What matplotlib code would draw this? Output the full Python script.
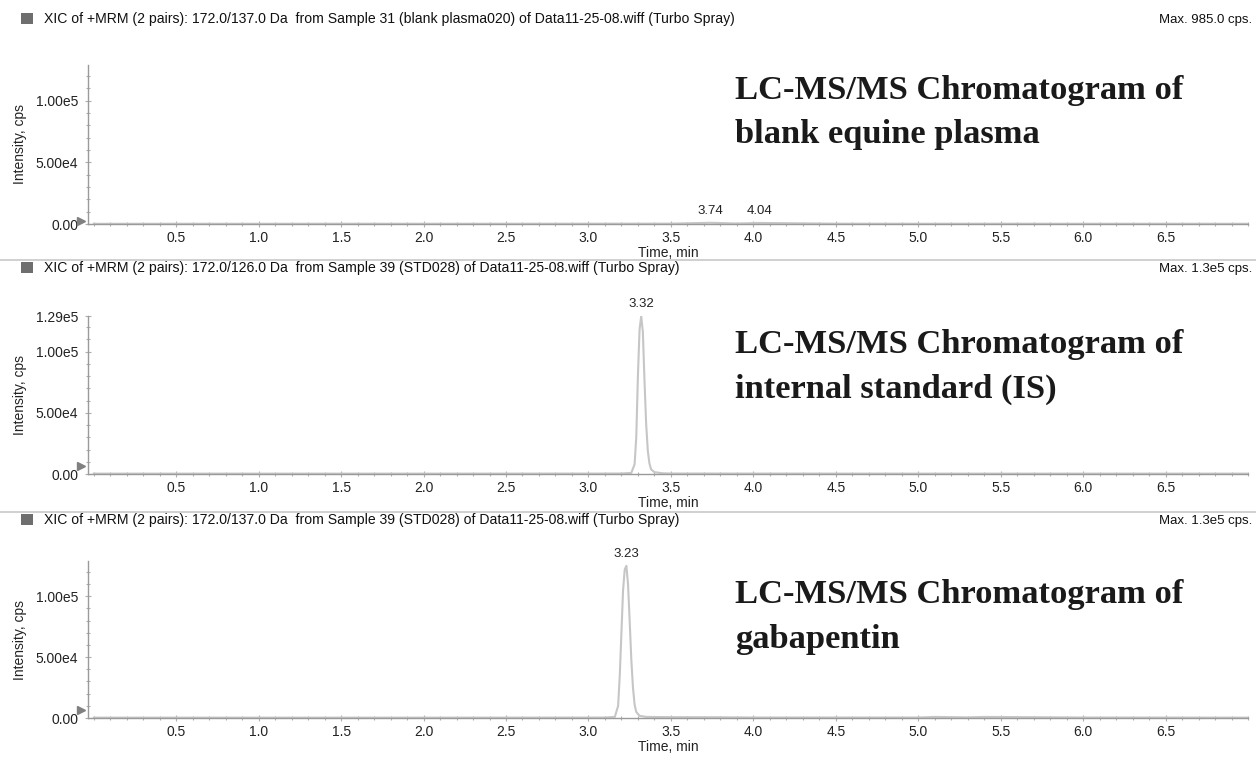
import matplotlib
matplotlib.use("Agg")
import matplotlib.pyplot as plt
from matplotlib.ticker import MultipleLocator, FixedLocator, FixedFormatter

# ---------------- data ----------------
headers = [
    "XIC of +MRM (2 pairs): 172.0/137.0 Da  from Sample 31 (blank plasma020) of Data11-25-08.wiff (Turbo Spray)",
    "XIC of +MRM (2 pairs): 172.0/126.0 Da  from Sample 39 (STD028) of Data11-25-08.wiff (Turbo Spray)",
    "XIC of +MRM (2 pairs): 172.0/137.0 Da  from Sample 39 (STD028) of Data11-25-08.wiff (Turbo Spray)",
]
max_labels = ["Max. 985.0 cps.", "Max. 1.3e5 cps.", "Max. 1.3e5 cps."]
titles = [
    ("LC-MS/MS Chromatogram of", "blank equine plasma"),
    ("LC-MS/MS Chromatogram of", "internal standard (IS)"),
    ("LC-MS/MS Chromatogram of", "gabapentin"),
]
ytick_values = [[0, 5e4, 1e5], [0, 5e4, 1e5, 1.29e5], [0, 5e4, 1e5]]
ytick_labels = [["0.00", "5.00e4", "1.00e5"], ["0.00", "5.00e4", "1.00e5", "1.29e5"], ["0.00", "5.00e4", "1.00e5"]]
xtick_values = [0.5, 1.0, 1.5, 2.0, 2.5, 3.0, 3.5, 4.0, 4.5, 5.0, 5.5, 6.0, 6.5]

# blank plasma trace (time, cps)
blank_t = [0.0, 0.5, 1.0, 1.5, 2.0, 2.5, 3.0, 3.5, 3.74, 3.9, 4.04, 4.5, 5.0, 5.5, 6.0, 6.5, 7.0]
blank_y = [150, 200, 180, 220, 190, 210, 250, 300, 985, 400, 850, 250, 200, 230, 190, 210, 180]
blank_peak_labels = [(3.74, 985), (4.04, 850)]

# internal standard trace
is_t = [0.0, 1.0, 2.0, 3.0, 3.20, 3.26, 3.28, 3.29, 3.30, 3.31, 3.32, 3.33, 3.34, 3.35,
        3.36, 3.37, 3.38, 3.40, 3.45, 3.50, 4.0, 5.0, 6.0, 7.0]
is_y = [300, 300, 300, 350, 400, 900, 8000, 30000, 80000, 118000, 129000, 116000, 76000, 41000,
        19000, 8500, 3800, 1500, 600, 400, 350, 300, 300, 300]

# gabapentin trace
gb_t = [0.0, 1.0, 2.0, 3.0, 3.10, 3.16, 3.18, 3.19, 3.20, 3.21, 3.22, 3.23, 3.24, 3.25,
        3.26, 3.27, 3.28, 3.29, 3.31, 3.35, 3.50, 3.80, 4.0, 5.0, 5.1, 5.3, 5.4, 6.0, 7.0]
gb_y = [300, 300, 300, 350, 400, 900, 10000, 35000, 70000, 105000, 122000, 125000, 110000, 80000,
        48000, 25000, 11000, 5000, 1800, 900, 700, 600, 400, 400, 900, 500, 900, 400, 300]

traces = [(blank_t, blank_y), (is_t, is_y), (gb_t, gb_y)]
peak_labels = [blank_peak_labels, [(3.32, 129000)], [(3.23, 125000)]]

# ---------------- layout ----------------
W, H = 1256, 761
fig = plt.figure(figsize=(W / 100, H / 100), dpi=100)
plt.rcParams['font.family'] = ['Liberation Sans', 'DejaVu Sans']

def fy(px):
    return 1 - px / H

def fx(px):
    return px / W

axes_px = [(65, 224), (316, 474), (561, 718)]   # top, bottom
header_px = [19, 268, 520]
sep_px = [None, 260, 512]
title_px = [(99, 143), (353, 398), (603, 648)]
ax_left, ax_right = 88, 1248

trace_color = "#c6c6c6"
axis_color = "#9a9a9a"

for i in range(3):
    top, bot = axes_px[i]
    ax = fig.add_axes([fx(ax_left), fy(bot), fx(ax_right - ax_left), (bot - top) / H])
    t, y = traces[i]
    ax.plot(t, y, color=trace_color, lw=1.5, solid_joinstyle="round")
    ax.set_xlim(-0.035, 7.0)
    ax.set_ylim(0, 1.29e5)
    for s in ["top", "right"]:
        ax.spines[s].set_visible(False)
    for s in ["left", "bottom"]:
        ax.spines[s].set_color(axis_color)
        ax.spines[s].set_linewidth(1.0)
    ax.xaxis.set_major_locator(FixedLocator(xtick_values))
    ax.xaxis.set_minor_locator(MultipleLocator(0.1))
    ax.yaxis.set_major_locator(FixedLocator(ytick_values[i]))
    ax.yaxis.set_major_formatter(FixedFormatter(ytick_labels[i]))
    ax.yaxis.set_minor_locator(MultipleLocator(1e4))
    ax.tick_params(axis="both", which="both", direction="inout", color="#b0b0b0", width=0.8)
    ax.tick_params(axis="both", which="major", length=4, labelsize=10, labelcolor="#222222")
    ax.tick_params(axis="both", which="minor", length=3)
    ax.tick_params(axis="x", pad=3)
    ax.tick_params(axis="y", pad=5)
    ax.xaxis.set_major_formatter(FixedFormatter([f"{v:.1f}" for v in xtick_values]))
    ax.set_xlabel("Time, min", fontsize=10, color="#222222", labelpad=0.5)
    ax.set_ylabel("Intensity, cps", fontsize=10, color="#222222")
    ax.yaxis.set_label_coords((27 - ax_left) / (ax_right - ax_left), 0.5)
    # small triangle at origin
    ax.plot([-0.006], [0.02 if i == 0 else 0.05], transform=ax.transAxes, marker=">",
            color="#808080", ms=6, clip_on=False, ls="none")
    # peak labels
    for (pt, pv) in peak_labels[i]:
        ax.annotate(f"{pt:.2f}", xy=(pt, pv), xytext=(0, 4), textcoords="offset points",
                    ha="center", va="bottom", fontsize=9.5, color="#222222",
                    annotation_clip=False)
    # header row
    fig.text(fx(44), fy(header_px[i]), headers[i], fontsize=10.1, va="center", ha="left",
             color="#111111")
    fig.patches.append(plt.Rectangle((fx(21), fy(header_px[i] + 5)), fx(12), 11 / H,
                                     transform=fig.transFigure, color="#6e6e6e", lw=0))
    fig.text(fx(1252), fy(header_px[i] + 1), max_labels[i], fontsize=9.5, va="center",
             ha="right", color="#111111")
    if sep_px[i] is not None:
        fig.add_artist(plt.Line2D([0, 1], [fy(sep_px[i])] * 2, color="#c8c8c8", lw=1.2,
                                  transform=fig.transFigure))
    # big bold titles
    l1, l2 = titles[i]
    b1, b2 = title_px[i]
    fig.text(fx(735), fy(b1), l1, fontsize=24.8, fontweight="bold", va="baseline",
             ha="left", family="Liberation Serif", color="#1a1a1a")
    fig.text(fx(735), fy(b2), l2, fontsize=24.8, fontweight="bold", va="baseline",
             ha="left", family="Liberation Serif", color="#1a1a1a")

fig.savefig("out.png", dpi=100, facecolor="white")
